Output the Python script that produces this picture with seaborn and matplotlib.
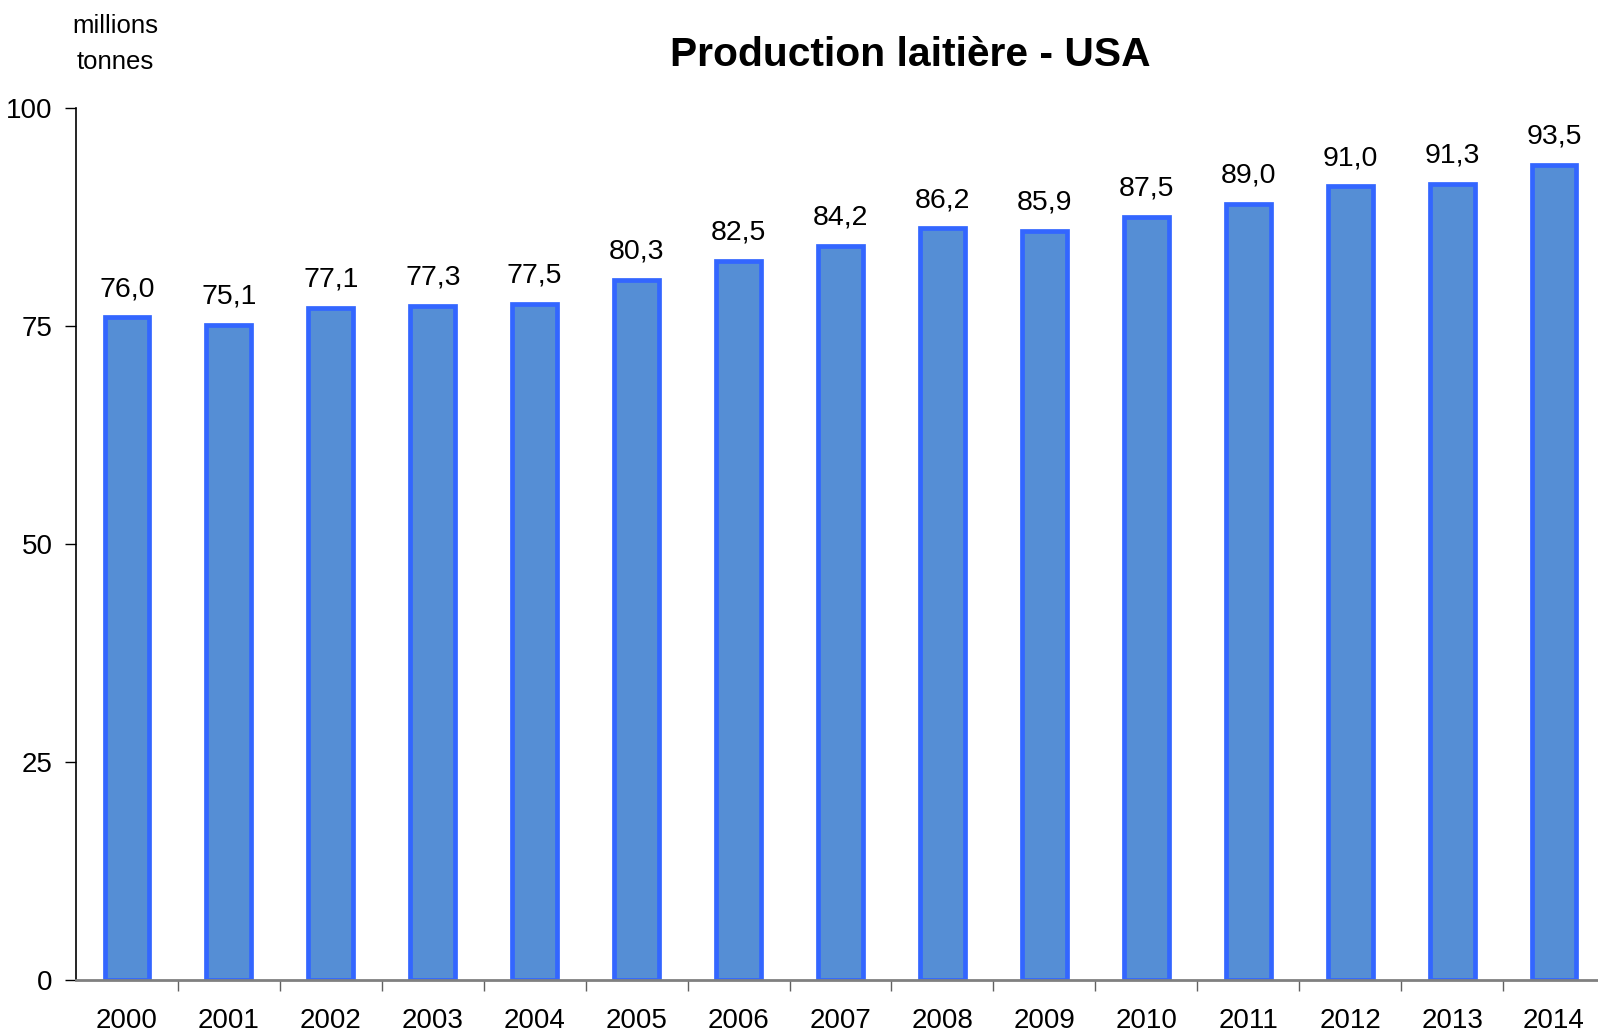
import pandas as pd
import matplotlib
matplotlib.use('Agg')
import matplotlib.pyplot as plt
import seaborn as sns
from matplotlib.ticker import FixedLocator

# %% data

annees = ['2000', '2001', '2002', '2003', '2004', '2005', '2006', '2007',
          '2008', '2009', '2010', '2011', '2012', '2013', '2014']
production = [76.0, 75.1, 77.1, 77.3, 77.5, 80.3, 82.5, 84.2,
              86.2, 85.9, 87.5, 89.0, 91.0, 91.3, 93.5]
y_ticks = [0, 25, 50, 75, 100]

df = pd.DataFrame({'Annee': annees, 'Production': production})

# %% style

sns.set_style('white')
plt.rcParams['font.family'] = ['Liberation Sans', 'DejaVu Sans']
plt.rcParams['text.color'] = 'black'
plt.rcParams['xtick.color'] = 'black'
plt.rcParams['ytick.color'] = 'black'

fig = plt.figure(figsize=(15.98, 10.33), dpi=100)
ax = fig.add_axes([76 / 1598, 1 - 980 / 1033, 1529 / 1598, 872 / 1033])

sns.barplot(data=df, x='Annee', y='Production', ax=ax, color='#558ED5',
            saturation=1, edgecolor='#3366FF', linewidth=3.4, width=0.44)

# valeurs au-dessus des barres
for i, v in enumerate(production):
    ax.annotate(f'{v:.1f}'.replace('.', ','), (i, v), xytext=(0, 11),
                textcoords='offset points', ha='center', va='bottom',
                fontsize=20.5, color='black')

ax.set_xlim(-0.5, len(annees) - 0.5)
ax.set_ylim(0, 100)
ax.set_yticks(y_ticks)
ax.set_xlabel('')
ax.set_ylabel('')

# graduations x entre les catégories
ax.xaxis.set_minor_locator(FixedLocator([i + 0.5 for i in range(len(annees))]))
ax.tick_params(axis='x', which='major', length=0, pad=20, labelsize=20,
               labelcolor='black')
ax.tick_params(axis='x', which='minor', length=8, width=1, color='#606060',
               direction='out', bottom=True)
ax.tick_params(axis='y', length=8, width=1, color='black', direction='out',
               left=True, pad=9, labelsize=20, labelcolor='black')

for s in ['top', 'right']:
    ax.spines[s].set_visible(False)
ax.spines['left'].set_color('black')
ax.spines['left'].set_linewidth(1.2)
ax.spines['bottom'].set_color('#808080')
ax.spines['bottom'].set_linewidth(2)

fig.text(910 / 1598, 1 - 55 / 1033, 'Production laitière - USA', ha='center',
         va='center', fontsize=29.3, fontweight='bold', color='black')
fig.text(115 / 1598, 1 - 44 / 1033, 'millions\ntonnes', ha='center',
         va='center', fontsize=18.5, linespacing=1.6, color='black')

fig.savefig('out.png', dpi=100)
